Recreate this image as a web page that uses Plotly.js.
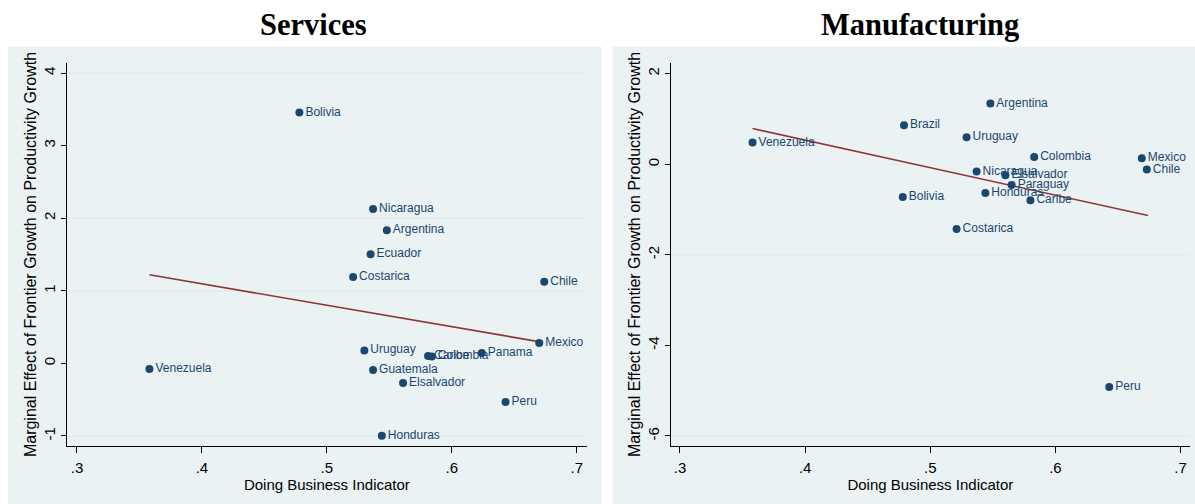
<!DOCTYPE html>
<html>
<head>
<meta charset="utf-8">
<script src="https://cdn.plot.ly/plotly-3.0.1.min.js"></script>
<style>html,body{margin:0;padding:0;background:#fff;}#chart{width:1195px;height:504px;}</style>
</head>
<body>
<div id="chart"></div>
<script>
// ---- Data ----
const svcCountries = ["Bolivia","Nicaragua","Argentina","Ecuador","Costarica","Chile","Mexico","Uruguay","Caribe","Colombia","Panama","Venezuela","Guatemala","Elsalvador","Peru","Honduras"];
const svcDB        = [0.478, 0.537, 0.548, 0.535, 0.521, 0.674, 0.670, 0.530, 0.581, 0.584, 0.624, 0.358, 0.537, 0.561, 0.643, 0.544];
const svcEffect    = [3.456, 2.128, 1.833, 1.502, 1.191, 1.126, 0.281, 0.179, 0.102, 0.096, 0.143, -0.077, -0.091, -0.270, -0.532, -0.997];
const svcFitX      = [0.358, 0.673];
const svcFitY      = [1.22, 0.29];

const mfgCountries = ["Argentina","Brazil","Uruguay","Venezuela","Colombia","Mexico","Chile","Nicaragua","Elsalvador","Paraguay","Honduras","Bolivia","Caribe","Costarica","Peru"];
const mfgDB        = [0.548, 0.479, 0.529, 0.358, 0.583, 0.669, 0.673, 0.537, 0.560, 0.565, 0.544, 0.478, 0.580, 0.521, 0.643];
const mfgEffect    = [1.34, 0.861, 0.596, 0.479, 0.161, 0.132, -0.117, -0.161, -0.243, -0.457, -0.634, -0.722, -0.795, -1.428, -4.92];
const mfgFitX      = [0.358, 0.674];
const mfgFitY      = [0.788, -1.133];

const xTickVals  = [0.3, 0.4, 0.5, 0.6, 0.7];
const xTickText  = [".3", ".4", ".5", ".6", ".7"];
const svcYTicks  = [-1, 0, 1, 2, 3, 4];
const svcYText   = ["-1", "0", "1", "2", "3", "4"];
const mfgYTicks  = [-6, -4, -2, 0, 2];
const mfgYText   = ["-6", "-4", "-2", "0", "2"];

const panelTitles = ["Services", "Manufacturing"];
const xTitle = "Doing Business Indicator";
const yTitle = "Marginal Effect of Frontier Growth on Productivity Growth";

// ---- Styles ----
const navy = "#1a476f";
const maroon = "#90353b";
const bg = "#eaf2f3";
const axisFont = {family: "Liberation Sans, Arial, sans-serif", size: 15, color: "#000"};
const yTitleFont = {family: "Liberation Sans, Arial, sans-serif", size: 16, color: "#000"};
const labelFont = {family: "Liberation Sans, Arial, sans-serif", size: 12, color: navy};
const titleFont = {family: "Liberation Serif, Times New Roman, serif", size: 30.5, color: "#000"};

function scatter(x, y, txt, xa, ya) {
  return {x: x, y: y, text: txt, mode: "markers+text", type: "scatter",
    xaxis: xa, yaxis: ya, textposition: "middle right", textfont: labelFont,
    marker: {color: navy, size: 8}, cliponaxis: false, hoverinfo: "x+y+text"};
}
function fit(x, y, xa, ya) {
  return {x: x, y: y, mode: "lines", type: "scatter", xaxis: xa, yaxis: ya,
    line: {color: maroon, width: 1.6}, hoverinfo: "skip"};
}

const data = [
  fit(svcFitX, svcFitY, "x", "y"),
  scatter(svcDB, svcEffect, svcCountries, "x", "y"),
  fit(mfgFitX, mfgFitY, "x2", "y2"),
  scatter(mfgDB, mfgEffect, mfgCountries, "x2", "y2")
];

function xaxisDef(domain, range, anchor) {
  return {domain: domain, range: range, anchor: anchor, tickvals: xTickVals, ticktext: xTickText,
    ticks: "outside", ticklen: 6, tickcolor: "#000", tickwidth: 1, showline: true, linecolor: "#000",
    linewidth: 1, showgrid: false, zeroline: false, tickfont: axisFont, fixedrange: true,
    ticklabelstandoff: 2,
    title: {text: xTitle, font: axisFont, standoff: 0}};
}
function yaxisDef(range, ticks, text, anchor) {
  return {domain: [0, 1], range: range, anchor: anchor, tickvals: ticks, ticktext: text, tickangle: -90,
    ticks: "outside", ticklen: 5, tickcolor: "#000", tickwidth: 1, showline: true, linecolor: "#000",
    linewidth: 1, showgrid: true, gridcolor: "#e4edef", gridwidth: 1.5, zeroline: false,
    tickfont: axisFont, fixedrange: true, title: {text: yTitle, font: yTitleFont, standoff: 0}};
}

const layout = {
  width: 1195, height: 504,
  margin: {l: 67, r: 5, t: 63, b: 58},
  paper_bgcolor: "#fff", plot_bgcolor: "#fff",
  showlegend: false,
  xaxis: xaxisDef([0, 0.4628], [0.292, 0.708], "y"),
  yaxis: yaxisDef([-1.138, 4.138], svcYTicks, svcYText, "x"),
  xaxis2: xaxisDef([0.5376, 1], [0.2926, 0.7075], "y2"),
  yaxis2: yaxisDef([-6.221, 2.236], mfgYTicks, mfgYText, "x2"),
  shapes: [
    {type: "rect", xref: "paper", yref: "paper", x0: -0.0523, x1: 0.4761, y0: -0.1514, y1: 1.0426,
     fillcolor: bg, line: {width: 0}, layer: "below"},
    {type: "rect", xref: "paper", yref: "paper", x0: 0.4856, x1: 1.0045, y0: -0.1514, y1: 1.0426,
     fillcolor: bg, line: {width: 0}, layer: "below"}
  ],
  annotations: [
    {text: "<b>" + panelTitles[0] + "</b>", xref: "paper", yref: "paper", x: 0.2198, y: 1.1005,
     xanchor: "center", yanchor: "middle", showarrow: false, font: titleFont},
    {text: "<b>" + panelTitles[1] + "</b>", xref: "paper", yref: "paper", x: 0.7596, y: 1.1005,
     xanchor: "center", yanchor: "middle", showarrow: false, font: titleFont}
  ]
};

Plotly.newPlot("chart", data, layout, {displayModeBar: false, staticPlot: true});
</script>
</body>
</html>
